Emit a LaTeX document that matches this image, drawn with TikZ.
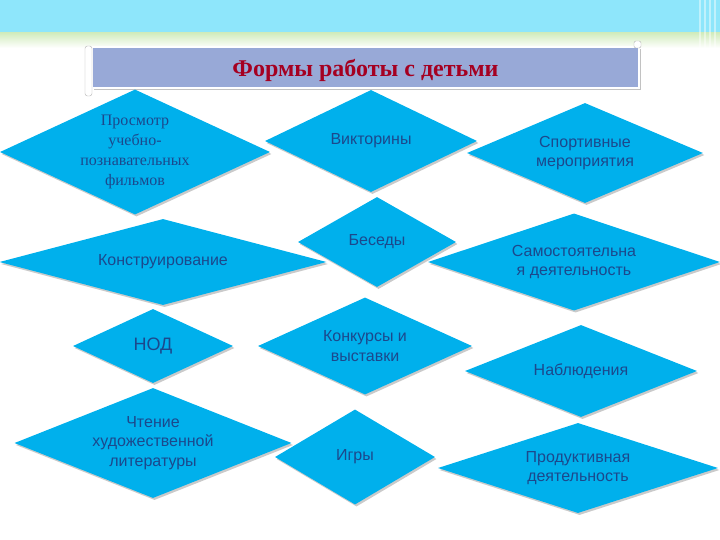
\documentclass[tikz,border=0pt]{standalone}
\usepackage{fontspec}
\setmainfont{Liberation Serif}
\setsansfont{Liberation Sans}
\usepackage{tikz}
\usetikzlibrary{shapes.geometric,shadows}

\definecolor{formfill}{RGB}{0,176,236}
\definecolor{formtext}{RGB}{28,72,140}
\definecolor{titlefill}{RGB}{152,169,215}
\definecolor{titletext}{RGB}{165,0,33}
\definecolor{bannercyan}{RGB}{142,230,251}
\definecolor{bannergreen}{RGB}{210,236,190}

\begin{document}
\begin{tikzpicture}[x=1pt,y=-1pt]
\tikzstyle{form} = [diamond, fill=formfill, inner sep=0pt,
    drop shadow={shadow xshift=1.5pt, shadow yshift=-2pt, fill=black!60, opacity=.35}]
\tikzstyle{formlabel} = [text=formtext, align=center, font=\sffamily\fontsize{16}{19.5}\selectfont]
\tikzstyle{serflabel} = [text=formtext, align=center, font=\rmfamily\fontsize{16}{20}\selectfont]
\useasboundingbox (0,0) rectangle (720,540);
% banner
\fill[bannercyan] (0,0) rectangle (720,33);
\shade[top color=bannergreen, bottom color=white] (0,33) rectangle (720,48);
\foreach \x in {700,705,...,718}
    \draw[white, opacity=.45, line width=1.5pt] (\x,0) -- (\x,55);
% title scroll
\node[fill=titlefill, draw=white, line width=2pt, minimum width=547, minimum height=41,
    text depth=0pt,
    drop shadow={shadow xshift=1.5pt, shadow yshift=-2pt, fill=black!60, opacity=.4},
    text=titletext, font=\rmfamily\bfseries\fontsize{24}{28}\selectfont] (title) at (365.5,67.5) {Формы работы с детьми};
\draw[black!30, fill=white, rounded corners=2.5pt] (85,46) rectangle (92,96);
\draw[black!30, fill=white, rounded corners=2pt] (634,41) rectangle (641,48);
% forms
\node[form, minimum width=270, minimum height=125,
    label={[serflabel]center:Просмотр\\учебно-\\познавательных\\фильмов}] (prosmotr) at (135,152) {};
\node[form, minimum width=212, minimum height=102,
    label={[formlabel]center:Викторины}] (viktoriny) at (371,141) {};
\node[form, minimum width=236, minimum height=100,
    label={[formlabel]center:Спортивные\\мероприятия}] (sport) at (585,153) {};
\node[form, minimum width=327, minimum height=86,
    label={[formlabel]center:Конструирование}] (konstr) at (163,262) {};
\node[form, minimum width=158, minimum height=90,
    label={[formlabel]center:Беседы}] (besedy) at (377,242) {};
\node[form, minimum width=292, minimum height=97,
    label={[formlabel]center:Самостоятельна\\я деятельность}] (samost) at (574,262) {};
\node[form, minimum width=160, minimum height=74,
    label={[formlabel, font=\sffamily\fontsize{18}{21}\selectfont]center:НОД}] (nod) at (153,346) {};
\node[form, minimum width=214, minimum height=97,
    label={[formlabel]center:Конкурсы и\\выставки}] (konkursy) at (365,346) {};
\node[form, minimum width=232, minimum height=92,
    label={[formlabel]center:Наблюдения}] (nablyud) at (581,371) {};
\node[form, minimum width=277, minimum height=110,
    label={[formlabel]center:Чтение\\художественной\\литературы}] (chtenie) at (153,443) {};
\node[form, minimum width=160, minimum height=95,
    label={[formlabel]center:Игры}] (igry) at (355,457) {};
\node[form, minimum width=280, minimum height=90,
    label={[formlabel]center:Продуктивная\\деятельность}] (produkt) at (578,468) {};
\end{tikzpicture}
\end{document}
